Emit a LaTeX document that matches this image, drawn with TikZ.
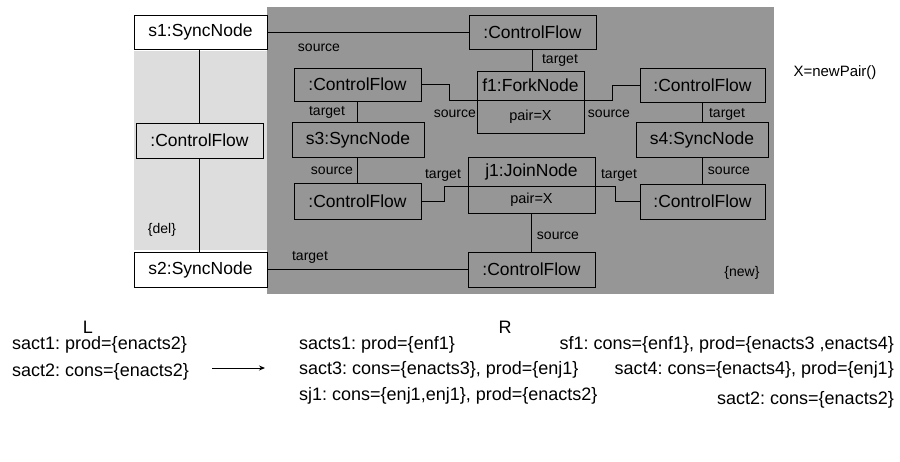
\documentclass[tikz,border=0pt]{standalone}
\usepackage{fontspec}
\setmainfont{Liberation Sans}
\usetikzlibrary{arrows.meta}
\definecolor{newarea}{RGB}{150,150,150}
\definecolor{delarea}{RGB}{221,221,221}
\frenchspacing
\begin{document}
\begin{tikzpicture}[x=1pt,y=-1pt,
  obj/.style={draw, line width=1pt, inner sep=0pt, font=\fontsize{17.5}{18}\selectfont},
  attr/.style={draw, line width=1pt, inner sep=0pt, font=\fontsize{14.5}{15}\selectfont},
  conn/.style={line width=1pt},
  role/.style={inner sep=0pt, font=\fontsize{14}{14}\selectfont},
  note/.style={inner sep=0pt, font=\fontsize{14}{14}\selectfont},
  rule/.style={inner sep=0pt, font=\fontsize{18}{18}\selectfont},
]
\useasboundingbox (0,0) rectangle (900,461);

% deleted and created areas
\fill[delarea] (134,51) rectangle (267,250);
\fill[newarea] (267,7) rectangle (774,294);

% preserved sync nodes
\node[obj, fill=white, minimum width=133, minimum height=34] (s1) at (200.5,32) {s1:SyncNode};
\node[obj, fill=white, minimum width=133, minimum height=35] (s2) at (200.5,269.5) {s2:SyncNode};

% deleted flow
\node[obj, minimum width=127, minimum height=35] (cfL) at (199.5,140.5) {:ControlFlow};

% created objects
\node[obj, minimum width=127, minimum height=34] (cfA) at (532.5,32) {:ControlFlow};
\node[obj, minimum width=107, minimum height=29] (f1) at (530.5,85.5) {f1:ForkNode};
\node[attr, minimum width=107, minimum height=33] (f1a) at (530.5,116.5) {pair=X};
\node[obj, minimum width=127, minimum height=33] (cfB) at (357.5,84.5) {:ControlFlow};
\node[obj, minimum width=125, minimum height=34] (cfD) at (702.5,85) {:ControlFlow};
\node[obj, minimum width=132, minimum height=35] (s3) at (358,139.5) {s3:SyncNode};
\node[obj, minimum width=132, minimum height=35] (s4) at (702,139.5) {s4:SyncNode};
\node[obj, minimum width=127, minimum height=29] (j1) at (531.5,171.5) {j1:JoinNode};
\node[attr, minimum width=127, minimum height=27] (j1a) at (531.5,199.5) {pair=X};
\node[obj, minimum width=127, minimum height=36] (cfC) at (357.5,201) {:ControlFlow};
\node[obj, minimum width=125, minimum height=35] (cfE) at (702.5,201.5) {:ControlFlow};
\node[obj, minimum width=127, minimum height=35] (cfF) at (531.5,269.5) {:ControlFlow};

% links
\draw[conn] (s1.south -| cfL.north) -- (cfL.north);
\draw[conn] (cfL.south) -- (s2.north -| cfL.south);
\draw[conn] (s1.east) -- (cfA.west);
\draw[conn] (cfA.south) -- (f1.north -| cfA.south);
\draw[conn] (cfB.east) -- ++(28,0) |- (f1.south west);
\draw[conn] (f1.south east) -- ++(28,0) |- (cfD.west);
\draw[conn] (cfB.south) -- (s3.north -| cfB.south);
\draw[conn] (cfD.south) -- (s4.north -| cfD.south);
\draw[conn] (s3.south -| cfC.north) -- (cfC.north);
\draw[conn] (s4.south -| cfE.north) -- (cfE.north);
\draw[conn] (cfC.east) -- ++(23,0) |- (j1.south west);
\draw[conn] (j1.south east) -- ++(20,0) |- (cfE.west);
\draw[conn] (j1a.south) -- (cfF.north);
\draw[conn] (s2.east) -- (cfF.west);

% role names
\node[role] (r1) at (319,48) {source};
\node[role] (r2) at (560,60) {target};
\node[role] (r3) at (327,112) {target};
\node[role, anchor=east] (r4) at (476,114) {source};
\node[role] (r5) at (609,114) {source};
\node[role] (r6) at (727,114) {target};
\node[role] (r7) at (332,171) {source};
\node[role] (r8) at (443,175) {target};
\node[role] (r9) at (619,175) {target};
\node[role] (r10) at (729,171) {source};
\node[role] (r11) at (558,236) {source};
\node[role] (r12) at (310,257) {target};

% area tags and condition
\node[note] (del) at (162,230) {\{del\}};
\node[note] (new) at (742,273) {\{new\}};
\node[note, font=\fontsize{15}{15}\selectfont] (xp) at (835,73) {X=newPair()};

% rule sides
\node[rule] (L) at (88,327) {L};
\node[rule] (R) at (505,327) {R};
\node[rule, anchor=west] (l1) at (12,345) {sact1: prod=\{enacts2\}};
\node[rule, anchor=west] (l2) at (12,372) {sact2: cons=\{enacts2\}};
\coordinate (arrL) at (212,368);
\coordinate (arrR) at (265,368);
\draw[line width=0.9pt, -{Stealth[length=6pt,width=5pt]}] (arrL) -- (arrR);
\node[rule, anchor=west] (ra1) at (299,345) {sacts1: prod=\{enf1\}};
\node[rule, anchor=west] (ra2) at (299,370) {sact3: cons=\{enacts3\}, prod=\{enj1\}};
\node[rule, anchor=west] (ra3) at (299,396) {sj1: cons=\{enj1,enj1\}, prod=\{enacts2\}};
\node[rule, anchor=east] (rb1) at (894,345) {sf1: cons=\{enf1\}, prod=\{enacts3 ,enacts4\}};
\node[rule, anchor=east] (rb2) at (894,370) {sact4: cons=\{enacts4\}, prod=\{enj1\}};
\node[rule, anchor=east] (rb3) at (894,400) {sact2: cons=\{enacts2\}};
\end{tikzpicture}
\end{document}
